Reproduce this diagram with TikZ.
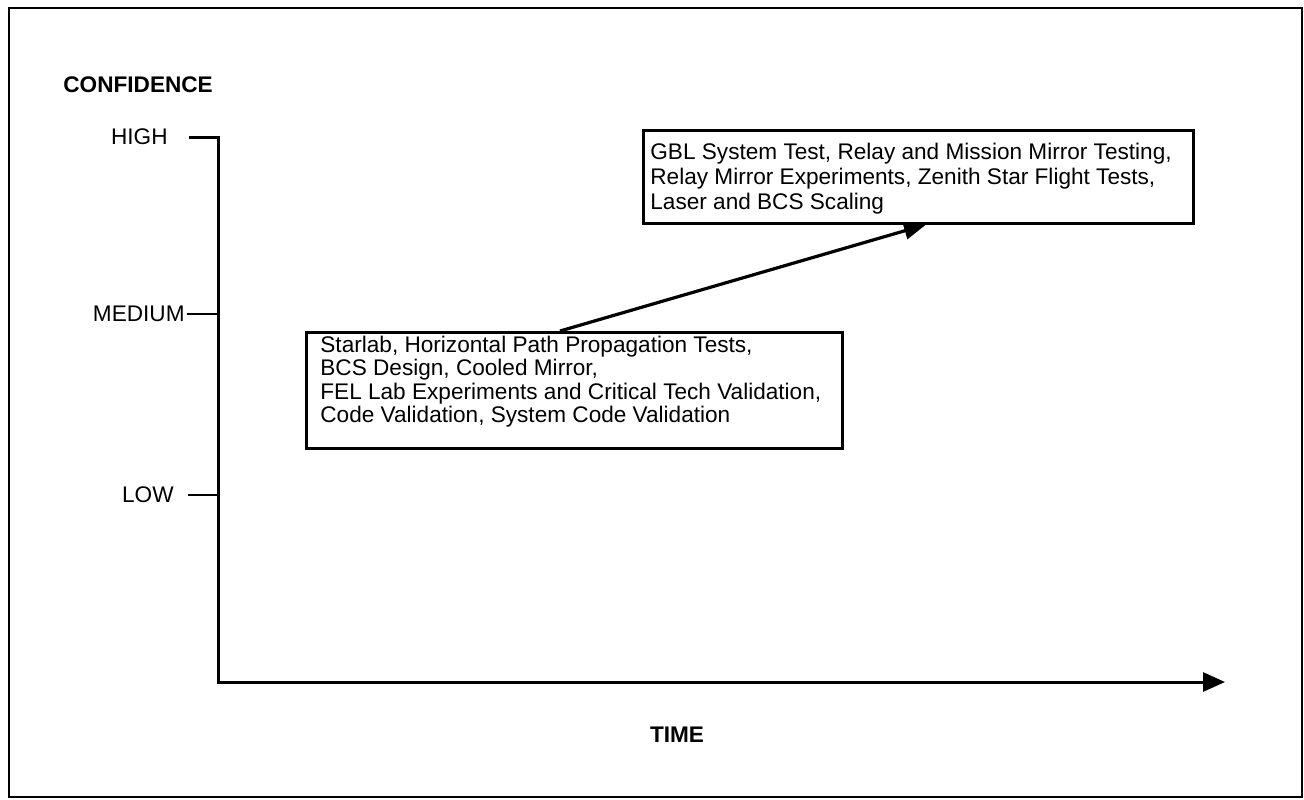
\documentclass[tikz,border=0pt]{standalone}
\usepackage{fontspec}
\setmainfont{Liberation Sans}
\usetikzlibrary{arrows.meta}

\begin{document}
\begin{tikzpicture}[x=0.5pt, y=-0.5pt,
    level/.style={font=\fontsize{11.3}{13}\selectfont, inner sep=0pt},
    axislabel/.style={font=\fontsize{11.3}{13}\selectfont\bfseries, inner sep=0pt},
    testbox/.style={draw, line width=1.3pt, inner sep=0pt, anchor=north west},
    boxtext/.style={align=left, inner sep=0pt, anchor=north west},
    trend/.style={line width=1.6pt, -{Triangle[length=11pt,width=8.5pt]}}]
    \useasboundingbox (0,0) rectangle (1304,799);
    \draw[line width=1.3pt] (9,8) rectangle (1302,797);

    \node[axislabel, anchor=west] (conf) at (63,85) {CONFIDENCE};
    \node[level, anchor=east] (high) at (168,137) {HIGH};
    \node[level, anchor=east] (medium) at (185,314) {MEDIUM};
    \node[level, anchor=east] (low) at (174,495) {LOW};
    \node[axislabel] (time) at (677,735) {TIME};

    \coordinate (top) at (218,137);
    \coordinate (origin) at (218,682);
    \coordinate (xend) at (1225,682);
    \draw[line width=1.5pt, -{Triangle[length=11pt,width=9.5pt]}] (189,137) -- (top) -- (origin) -- (xend);
    \draw[line width=1.2pt] (187,314) -- (218,314);
    \draw[line width=1.2pt] (188,495) -- (218,495);

    \node[testbox, minimum width=268pt, minimum height=58pt] (lowbox) at (305,331) {};
    \node[boxtext, font=\fontsize{11.3}{11.6}\selectfont] (lowtext) at (320,336)
        {Starlab, Horizontal Path Propagation Tests,\\
         BCS Design, Cooled Mirror,\\
         FEL Lab Experiments and Critical Tech Validation,\\
         Code Validation, System Code Validation};

    \node[testbox, minimum width=275pt, minimum height=46.5pt] (highbox) at (642,129) {};
    \node[boxtext, font=\fontsize{11.3}{12.5}\selectfont] (hightext) at (650,143)
        {GBL System Test, Relay and Mission Mirror Testing,\\
         Relay Mirror Experiments, Zenith Star Flight Tests,\\
         Laser and BCS Scaling};

    \draw[trend] ([xshift=127.5pt]lowbox.north west) -- ([xshift=142pt]highbox.south west);
\end{tikzpicture}
\end{document}
